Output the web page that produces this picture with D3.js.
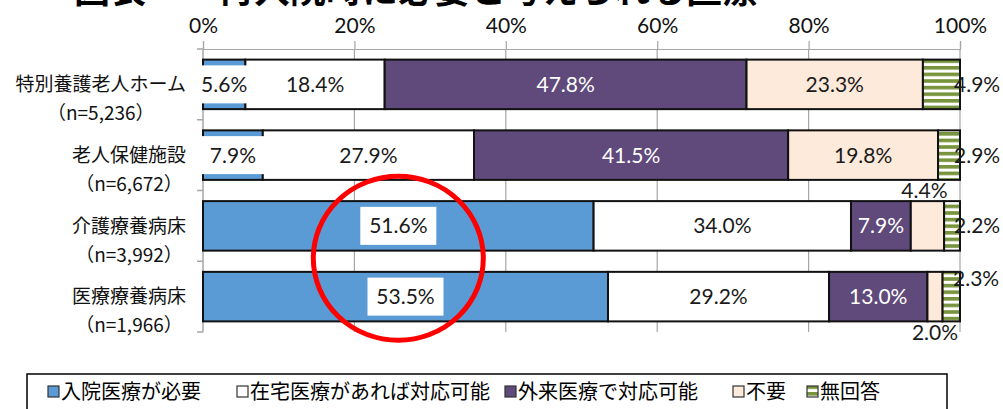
<!DOCTYPE html>
<html>
<head>
<meta charset="utf-8">
<script src="https://cdn.jsdelivr.net/npm/d3@7"></script>
<style>
  body { margin: 0; background: #fff; }
  svg { display: block; }
</style>
</head>
<body>
<div id="chart"></div>
<script>
// data
const categoryNames = ["特別養護老人ホーム", "老人保健施設", "介護療養病床", "医療療養病床"];
const categoryN = ["（n=5,236）", "（n=6,672）", "（n=3,992）", "（n=1,966）"];
const seriesNames = ["入院医療が必要", "在宅医療があれば対応可能", "外来医療で対応可能", "不要", "無回答"];
const hospitalNeeded = [5.6, 7.9, 51.6, 53.5];
const homeCareOk = [18.4, 27.9, 34.0, 29.2];
const outpatientOk = [47.8, 41.5, 7.9, 13.0];
const notNeeded = [23.3, 19.8, 4.4, 2.0];
const noAnswer = [4.9, 2.9, 2.2, 2.3];
const tickValues = [0, 20, 40, 60, 80, 100];

const seriesValues = [hospitalNeeded, homeCareOk, outpatientOk, notNeeded, noAnswer];
const colors = ["#5b9bd5", "#ffffff", "#5f4a7b", "#fdeada", "url(#stripes)"];
const textColors = ["#1a1a1a", "#1a1a1a", "#ffffff", "#1a1a1a", "#1a1a1a"];

const width = 1003;
const height = 409;
const numFont = "Lato, 'Liberation Sans', sans-serif";
const jpFont = "'Noto Sans CJK JP', sans-serif";

const svg = d3.select("#chart")
    .append("svg")
    .attr("width", width)
    .attr("height", height);

const defs = svg.append("defs");
const pat = defs.append("pattern")
    .attr("id", "stripes")
    .attr("patternUnits", "userSpaceOnUse")
    .attr("width", 8)
    .attr("height", 6.6);
pat.append("rect").attr("width", 8).attr("height", 6.6).attr("fill", "#fff");
pat.append("rect").attr("y", 0).attr("width", 8).attr("height", 3.6).attr("fill", "#77933c");

const x = d3.scaleLinear().domain([0, 100]).range([203, 960]);
const y = d3.scaleBand()
    .domain(d3.range(categoryNames.length))
    .range([49, 332])
    .paddingInner(0.3)
    .paddingOuter(0.15);

// title, mostly cut off at the top edge
svg.append("text")
    .attr("x", 74)
    .attr("y", 3)
    .style("font-family", jpFont)
    .style("font-size", "36px")
    .style("font-weight", "bold")
    .attr("fill", "#000")
    .text("図表　　再入院時に必要と考えられる医療");

// gridlines
const grid = svg.append("g");
grid.selectAll("line")
    .data(tickValues.slice(1))
    .enter()
    .append("line")
    .attr("x1", d => x(d)).attr("x2", d => x(d))
    .attr("y1", 49).attr("y2", 332)
    .attr("stroke", "#a6a6a6")
    .attr("stroke-width", 1.2);

// top axis
const axisTop = d3.axisTop(x)
    .tickValues(tickValues)
    .tickFormat(d => d + "%")
    .tickSize(8)
    .tickPadding(8);
const gTop = svg.append("g")
    .attr("transform", "translate(0,49)")
    .call(axisTop);
gTop.select(".domain").attr("stroke", "#a6a6a6").attr("stroke-width", 1.2);
gTop.selectAll(".tick line").attr("stroke", "#a6a6a6").attr("stroke-width", 1.2);
gTop.selectAll(".tick text")
    .style("font-family", numFont)
    .style("font-size", "21px")
    .attr("fill", "#111");

// left axis line with ticks at band boundaries
const step = y.step();
const bounds = d3.range(categoryNames.length + 1).map(i => 49 + i * step);
svg.append("line")
    .attr("x1", x(0)).attr("x2", x(0))
    .attr("y1", 49).attr("y2", 332)
    .attr("stroke", "#a6a6a6").attr("stroke-width", 1.5);
svg.append("g").selectAll("line")
    .data(bounds)
    .enter()
    .append("line")
    .attr("x1", x(0) - 6).attr("x2", x(0))
    .attr("y1", d => d).attr("y2", d => d)
    .attr("stroke", "#a6a6a6").attr("stroke-width", 1.5);

// stacked segments
const segments = [];
categoryNames.forEach((c, i) => {
    let acc = 0;
    seriesValues.forEach((vals, s) => {
        segments.push({ row: i, s: s, v: vals[i], x0: acc, x1: acc + vals[i] });
        acc += vals[i];
    });
});
segments.forEach(d => { if (d.x1 > 100) d.x1 = 100; });

svg.append("g").selectAll("rect")
    .data(segments)
    .enter()
    .append("rect")
    .attr("x", d => x(d.x0))
    .attr("y", d => y(d.row))
    .attr("width", d => x(d.x1) - x(d.x0))
    .attr("height", y.bandwidth())
    .attr("fill", d => colors[d.s])
    .attr("stroke", "#111")
    .attr("stroke-width", 2);

// label positions
function labelPos(d) {
    const cy = y(d.row) + y.bandwidth() / 2;
    if (d.s === 4) {
        if (d.row === 3) return { x: x(100) - 7, y: y(d.row) + 7, anchor: "start" };
        return { x: x(100) - 6, y: cy, anchor: "start" };
    }
    if (d.s === 3 && d.row === 2) return { x: x((d.x0 + d.x1) / 2) - 3, y: y(d.row) - 11, anchor: "middle" };
    if (d.s === 3 && d.row === 3) return { x: x((d.x0 + d.x1) / 2), y: y(d.row) + y.bandwidth() + 11, anchor: "middle" };
    return { x: x((d.x0 + d.x1) / 2), y: cy, anchor: "middle" };
}

const labels = svg.append("g").selectAll("g")
    .data(segments)
    .enter()
    .append("g")
    .attr("transform", d => {
        const p = labelPos(d);
        return "translate(" + p.x + "," + p.y + ")";
    });

labels.filter(d => d.s === 0)
    .append("rect")
    .attr("x", d => d.v < 10 ? -33 : -38)
    .attr("y", -19)
    .attr("width", d => d.v < 10 ? 66 : 76)
    .attr("height", 38)
    .attr("fill", "#fff");

labels.append("text")
    .attr("text-anchor", d => labelPos(d).anchor)
    .attr("dy", "0.36em")
    .style("font-family", numFont)
    .style("font-size", "21px")
    .attr("fill", d => textColors[d.s])
    .text(d => d.v.toFixed(1) + "%");

// category labels, two centred lines, block right-aligned
const catG = svg.append("g").selectAll("g")
    .data(categoryNames)
    .enter()
    .append("g");
catG.each(function (name, i) {
    const g = d3.select(this);
    const cy = y(i) + y.bandwidth() / 2;
    const t1 = g.append("text").attr("y", cy).attr("dy", "0.36em").text(name);
    const t2 = g.append("text").attr("y", cy + 29).attr("dy", "0.36em").text(categoryN[i]);
    g.selectAll("text")
        .style("font-family", jpFont)
        .style("font-size", "19px")
        .attr("fill", "#111")
        .attr("text-anchor", "middle");
    const w = Math.max(t1.node().getComputedTextLength(), t2.node().getComputedTextLength());
    g.selectAll("text").attr("x", 186 - w / 2);
});

// red ellipse annotation
svg.append("ellipse")
    .attr("cx", x(hospitalNeeded[2] / 2))
    .attr("cy", y(3) - (y.step() - y.bandwidth()) / 2 - 3)
    .attr("rx", 85)
    .attr("ry", 82)
    .attr("fill", "none")
    .attr("stroke", "#ff0000")
    .attr("stroke-width", 5);

// legend
svg.append("rect")
    .attr("x", 27).attr("y", 374)
    .attr("width", 920).attr("height", 60)
    .attr("fill", "#fff")
    .attr("stroke", "#000")
    .attr("stroke-width", 1.5);

const legendX = [48, 237, 505, 733, 807];
const leg = svg.append("g").selectAll("g")
    .data(seriesNames)
    .enter()
    .append("g")
    .attr("transform", (d, i) => "translate(" + legendX[i] + ",392)");
leg.append("rect")
    .attr("x", 0).attr("y", -6)
    .attr("width", 11).attr("height", 11)
    .attr("fill", (d, i) => colors[i])
    .attr("stroke", "#333")
    .attr("stroke-width", 1.2);
leg.append("text")
    .attr("x", 13)
    .attr("dy", "0.36em")
    .style("font-family", jpFont)
    .style("font-size", "20px")
    .attr("fill", "#000")
    .text(d => d);
</script>
</body>
</html>
